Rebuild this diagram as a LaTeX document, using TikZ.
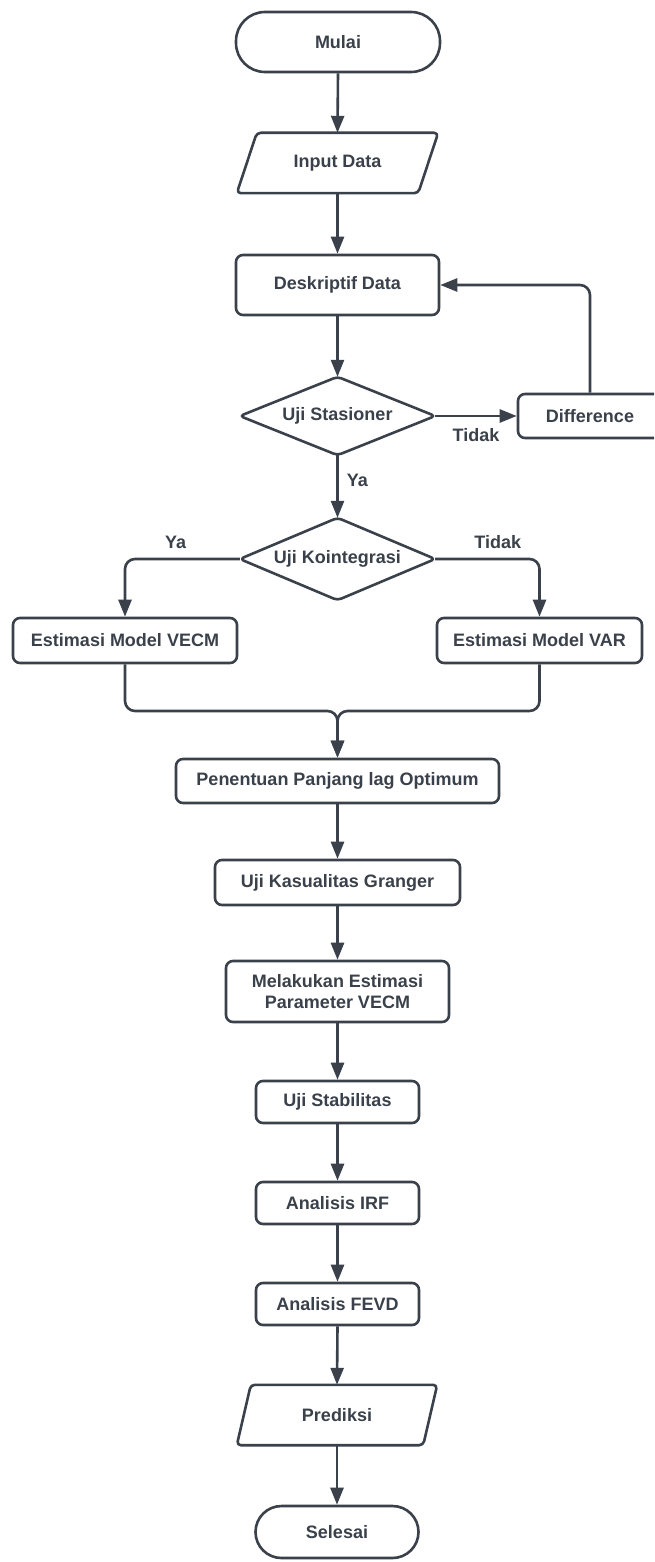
\documentclass[tikz,border=0pt]{standalone}
\usepackage{fontspec}
\setmainfont{Liberation Sans}
\usetikzlibrary{arrows.meta}
\definecolor{ink}{HTML}{3A414A}
\begin{document}
\begin{tikzpicture}[x=1pt,y=-1pt,
  txt/.style={text=ink, font=\fontsize{18}{21.5}\selectfont\bfseries, inner sep=0pt, align=center},
  box/.style={txt, draw=ink, line width=2.6pt, rectangle, rounded corners=7pt},
  termbox/.style={txt, draw=ink, line width=2.6pt, rectangle, rounded corners=#1},
  ghost/.style={txt, rectangle},
  outline/.style={draw=ink, line width=2.6pt, rounded corners=4pt, line join=round},
  arr/.style={draw=ink, line width=2.6pt, -{Triangle[length=17pt,width=13pt]}, rounded corners=10pt},
  ln/.style={draw=ink, line width=2.6pt, rounded corners=10pt},
  lbl/.style={txt}
]
\useasboundingbox (0,0) rectangle (654,1562);
\fill[white] (0,0) rectangle (654,1562);
\clip (0,0) rectangle (654,1562);

% nodes
\node[termbox=29pt, minimum width=204pt, minimum height=60pt] (mulai) at (338,42) {Mulai};
\node[ghost, minimum width=201pt, minimum height=60pt] (input) at (337.5,163) {Input Data};
\draw[outline] ([xshift=20pt]input.north west) -- (input.north east) -- ([xshift=-20pt]input.south east) -- (input.south west) -- cycle;
\node[box, minimum width=203pt, minimum height=60pt] (desk) at (337.5,285) {Deskriptif Data};
\node[ghost, minimum width=195pt, minimum height=78pt] (st) at (337.5,416) {Uji Stasioner};
\draw[outline] (st.north) -- (st.east) -- (st.south) -- (st.west) -- cycle;
\node[box, minimum width=144pt, minimum height=44pt] (diff) at (590,416) {Difference};
\node[ghost, minimum width=195pt, minimum height=82pt] (koi) at (337.5,559) {Uji Kointegrasi};
\draw[outline] (koi.north) -- (koi.east) -- (koi.south) -- (koi.west) -- cycle;
\node[box, minimum width=224pt, minimum height=45pt] (vecm) at (125,640.5) {Estimasi Model VECM};
\node[box, minimum width=205pt, minimum height=45pt] (var) at (539.5,640.5) {Estimasi Model VAR};
\coordinate (m) at (337.5,711);
\node[box, minimum width=323pt, minimum height=44pt] (pen) at (337.5,781) {Penentuan Panjang lag Optimum};
\node[box, minimum width=245pt, minimum height=45pt] (kas) at (337.5,882.5) {Uji Kasualitas Granger};
\node[box, minimum width=223pt, minimum height=61pt] (mel) at (337.5,991.5) {Melakukan Estimasi\\Parameter VECM};
\node[box, minimum width=163pt, minimum height=42pt] (stab) at (337.5,1102) {Uji Stabilitas};
\node[box, minimum width=163pt, minimum height=42pt] (irf) at (337.5,1203) {Analisis IRF};
\node[box, minimum width=163pt, minimum height=42pt] (fevd) at (337.5,1304) {Analisis FEVD};
\node[ghost, minimum width=200pt, minimum height=60pt] (pred) at (337,1415) {Prediksi};
\draw[outline] ([xshift=14pt]pred.north west) -- (pred.north east) -- ([xshift=-14pt]pred.south east) -- (pred.south west) -- cycle;
\node[termbox=26pt, minimum width=163pt, minimum height=52pt] (sel) at (337,1532) {Selesai};

% connectors
\draw[arr] (mulai.south) -- (input.north);
\draw[arr] (input.south) -- (desk.north);
\draw[arr] (desk.south) -- (st.north);
\draw[arr] (st.east) -- node[lbl, below=11pt] {Tidak} (diff.west);
\draw[arr] (diff.north) |- (desk.east);
\draw[arr] (st.south) -- node[lbl, right=8pt, pos=0.4] {Ya} (koi.north);
\draw[arr] (koi.west) -| node[lbl, above=9pt, pos=0.28] {Ya} (vecm.north);
\draw[arr] (koi.east) -| node[lbl, above=9pt, pos=0.3] {Tidak} (var.north);
\draw[arr] (vecm.south) |- (m) -- (pen.north);
\draw[arr] (var.south) |- (m) -- (pen.north);
\draw[arr] (pen.south) -- (kas.north);
\draw[arr] (kas.south) -- (mel.north);
\draw[arr] (mel.south) -- (stab.north);
\draw[arr] (stab.south) -- (irf.north);
\draw[arr] (irf.south) -- (fevd.north);
\draw[arr] (fevd.south) -- (pred.north);
\draw[arr] (pred.south) -- (sel.north);
\end{tikzpicture}
\end{document}
